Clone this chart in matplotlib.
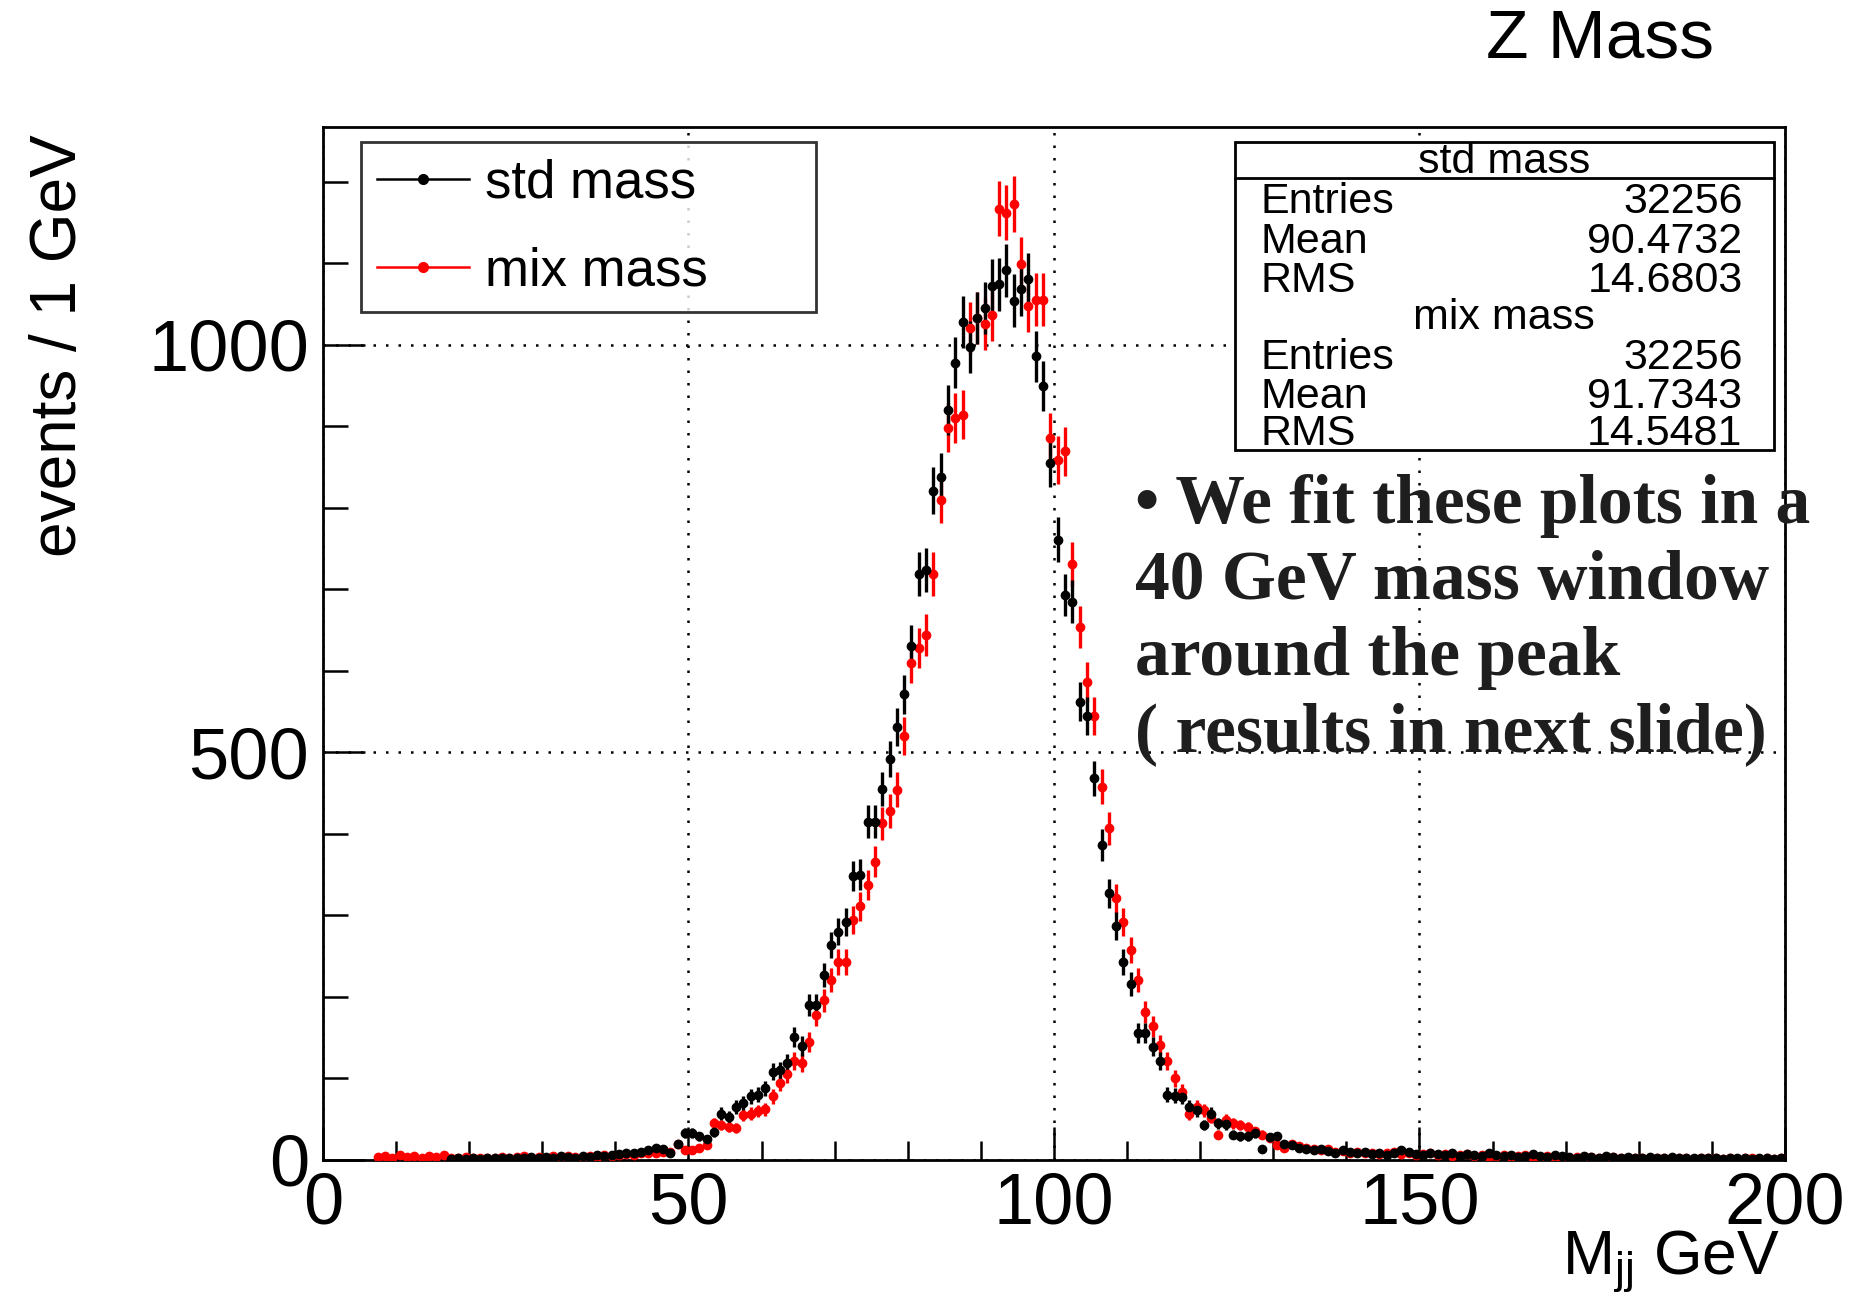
import numpy as np
import matplotlib
matplotlib.use("Agg")
import matplotlib.pyplot as plt
from matplotlib.lines import Line2D
from matplotlib.patches import Rectangle
from matplotlib.ticker import MultipleLocator

plt.rcParams["font.family"] = ["Liberation Sans", "DejaVu Sans"]
plt.rcParams["mathtext.fontset"] = "custom"
plt.rcParams["mathtext.rm"] = "Liberation Sans"
plt.rcParams["mathtext.it"] = "Liberation Sans"

# 1 GeV bins from 0 to 200, counts (0 = empty bin, not drawn)
BIN_EDGES = np.arange(0, 201, 1)

STD_MASS = [
    0, 0, 0, 0, 0, 0, 0, 0, 0, 0,
    0, 0, 0, 0, 0, 0, 0, 1, 2, 1,
    2, 1, 2, 3, 2, 3, 2, 3, 4, 3,
    4, 3, 5, 4, 3, 5, 4, 6, 5, 6,
    7, 8, 9, 10, 12, 15, 14, 9, 20, 33,
    33, 29, 26, 34, 57, 53, 65, 70, 78, 80,
    88, 108, 110, 119, 151, 140, 190, 190, 227, 264,
    280, 292, 348, 350, 415, 415, 455, 492, 531, 571,
    631, 719, 724, 821, 838, 920, 978, 1028, 997, 1033,
    1045, 1072, 1074, 1091, 1054, 1068, 1080, 986, 949, 855,
    761, 693, 685, 562, 544, 468, 386, 327, 287, 243,
    216, 156, 156, 139, 122, 80, 79, 77, 65, 61,
    43, 57, 45, 44, 31, 29, 29, 33, 14, 28,
    29, 20, 18, 15, 14, 12, 13, 11, 9, 12,
    10, 8, 10, 7, 9, 6, 8, 12, 10, 7,
    6, 9, 7, 6, 8, 5, 7, 6, 5, 8,
    6, 5, 6, 4, 5, 7, 5, 4, 6, 5,
    4, 3, 5, 4, 3, 5, 4, 3, 4, 2,
    3, 4, 3, 2, 4, 3, 2, 3, 2, 3,
    2, 1, 2, 3, 2, 1, 2, 2, 1, 2,
]

MIX_MASS = [
    0, 0, 0, 0, 0, 0, 0, 4, 5, 3,
    6, 4, 5, 3, 5, 4, 6, 3, 2, 4,
    2, 3, 3, 2, 4, 3, 4, 5, 3, 4,
    3, 5, 4, 5, 4, 3, 5, 4, 6, 5,
    6, 7, 6, 8, 9, 8, 10, 10, 20, 12,
    12, 15, 18, 45, 43, 41, 39, 55, 57, 60,
    62, 78, 94, 105, 121, 119, 145, 178, 196, 221,
    243, 243, 294, 311, 337, 366, 413, 428, 454, 520,
    610, 628, 644, 719, 810, 898, 910, 914, 1021, 1033,
    1025, 1037, 1167, 1162, 1173, 1099, 1048, 1055, 1055, 886,
    859, 869, 731, 654, 586, 544, 458, 407, 321, 292,
    258, 221, 182, 164, 141, 121, 100, 84, 57, 65,
    61, 52, 31, 49, 45, 43, 40, 35, 31, 27,
    18, 15, 20, 17, 15, 14, 12, 13, 10, 11,
    9, 10, 8, 9, 7, 8, 10, 7, 9, 6,
    7, 8, 6, 7, 5, 6, 7, 5, 6, 4,
    5, 6, 4, 5, 6, 3, 4, 5, 3, 4,
    3, 4, 3, 4, 2, 3, 4, 2, 3, 3,
    2, 3, 2, 3, 2, 2, 3, 1, 2, 2,
    3, 1, 2, 1, 2, 2, 1, 2, 1, 2,
]

STATS_STD = [("Entries", "32256"), ("Mean", "90.4732"), ("RMS", "14.6803")]
STATS_MIX = [("Entries", "32256"), ("Mean", "91.7343"), ("RMS", "14.5481")]

NOTE_LINES = [
    "\u2022 We fit these plots in a",
    "40 GeV mass window",
    "around the peak",
    "( results in next slide)",
]


def draw_hist(ax, counts, color):
    counts = np.asarray(counts, dtype=float)
    centers = 0.5 * (BIN_EDGES[:-1] + BIN_EDGES[1:])
    keep = counts > 0
    ax.errorbar(
        centers[keep], counts[keep],
        yerr=np.sqrt(counts[keep]), xerr=0.5,
        fmt="o", ms=6, color=color, ecolor=color,
        elinewidth=2.4, capsize=0, zorder=3,
    )


W, H = 1858, 1301
fig = plt.figure(figsize=(W / 100, H / 100), dpi=100)
ax = fig.add_axes([323 / W, 1 - 1160 / H, (1785 - 323) / W, (1160 - 127) / H])

draw_hist(ax, MIX_MASS, "#ff0000")
draw_hist(ax, STD_MASS, "black")

ax.set_xlim(0, 200)
ax.set_ylim(0, 1267)
ax.xaxis.set_major_locator(MultipleLocator(50))
ax.xaxis.set_minor_locator(MultipleLocator(10))
ax.yaxis.set_major_locator(MultipleLocator(500))
ax.yaxis.set_minor_locator(MultipleLocator(100))
ax.tick_params(axis="both", which="both", direction="in", top=False, right=False,
               width=1.8, labelsize=52)
ax.tick_params(axis="x", which="major", length=24, pad=8)
ax.tick_params(axis="x", which="minor", length=14)
ax.tick_params(axis="y", which="major", length=30, pad=10)
ax.tick_params(axis="y", which="minor", length=18)
for sp in ax.spines.values():
    sp.set_linewidth(2.0)
ax.grid(which="major", color="black", linestyle=(0, (1, 4)), linewidth=1.8)

# axis titles placed like ROOT does (right / top aligned)
fig.text(1780 / W, 1 - 1274 / H, r"M$_{\mathrm{jj}}$ GeV", ha="right",
         va="baseline", fontsize=45)
fig.text(59 / W, 1 - 134 / H, "events / 1 GeV", rotation=90, ha="center",
         va="top", fontsize=46)
fig.text(1600 / W, 1 - 39 / H, "Z Mass", ha="center", va="center", fontsize=50)

# legend
handles = [
    Line2D([], [], color="black", lw=1.8, marker="o", ms=7),
    Line2D([], [], color="#ff0000", lw=1.8, marker="o", ms=7),
]
leg = ax.legend(handles, ["std mass", "mix mass"], loc="upper left",
                bbox_to_anchor=(0.026, 0.985, 0.311, 0.0), mode="expand",
                fontsize=38, frameon=True, fancybox=False, edgecolor="black",
                borderpad=0.3, labelspacing=0.72, handlelength=1.75,
                handletextpad=0.3, borderaxespad=0)
leg.get_frame().set_linewidth(2.0)

# stats box
bx0, bx1, by0, by1 = 0.624, 0.9925, 0.687, 0.985
ax.add_patch(Rectangle((bx0, by0), bx1 - bx0, by1 - by0, transform=ax.transAxes,
                       facecolor="white", edgecolor="black", lw=2.0, zorder=5))
ax.plot([bx0, bx1], [0.951, 0.951], transform=ax.transAxes, color="black",
        lw=2.0, zorder=6)
ax.text(0.808, 0.966, "std mass", transform=ax.transAxes, ha="center",
        va="center", fontsize=31, zorder=6)
ax.text(0.808, 0.815, "mix mass", transform=ax.transAxes, ha="center",
        va="center", fontsize=31, zorder=6)
row_y = [0.927, 0.889, 0.851, 0.776, 0.739, 0.703]
for (name, val), yy in zip(STATS_STD + STATS_MIX, row_y):
    ax.text(0.641, yy, name, transform=ax.transAxes, ha="left", va="center",
            fontsize=31, zorder=6)
    ax.text(0.971, yy, val, transform=ax.transAxes, ha="right", va="center",
            fontsize=31, zorder=6)

# slide note
for i, line in enumerate(NOTE_LINES):
    fig.text(1135 / W, 1 - (523 + 76 * i) / H, line, ha="left", va="baseline",
             fontsize=50, fontweight="bold", family=["Liberation Serif"],
             color="#1e1e1e")

fig.savefig("out.png", dpi=100)
